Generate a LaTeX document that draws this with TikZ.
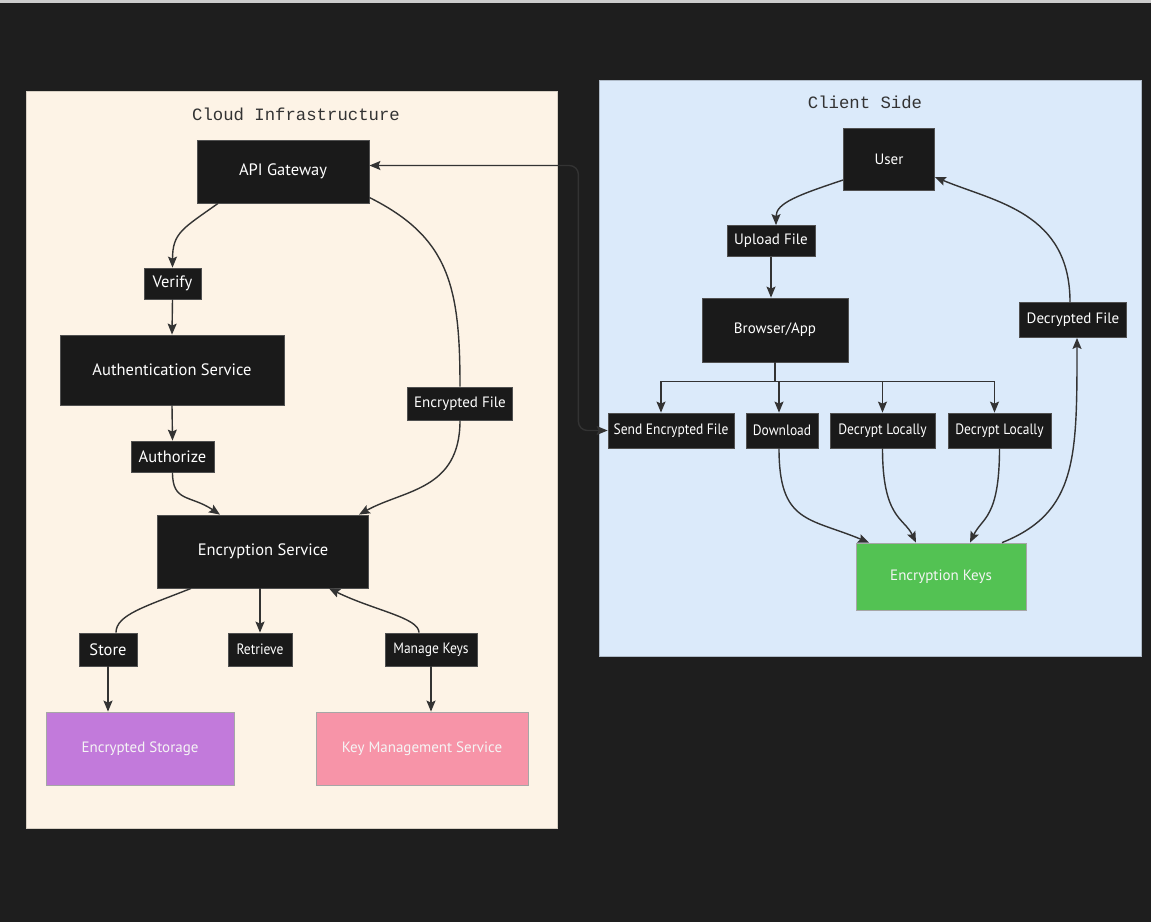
\documentclass[tikz,border=0pt]{standalone}
\usepackage{fontspec}
\setmainfont{PT Sans}
\newfontfamily\narrowfont[FakeStretch=0.9]{PT Sans}
\newfontfamily\titlefont{Liberation Mono}
\usetikzlibrary{arrows.meta}
\definecolor{bgdark}{HTML}{1E1E1E}
\definecolor{cream}{HTML}{FDF3E6}
\definecolor{skyblue}{HTML}{DBEAFA}
\definecolor{boxblack}{HTML}{1A1A1A}
\definecolor{boxedge}{HTML}{505050}
\definecolor{linegray}{HTML}{333333}
\definecolor{storepurple}{HTML}{C27ADB}
\definecolor{kmspink}{HTML}{F794A8}
\definecolor{keygreen}{HTML}{53C253}
\tikzset{
  blk/.style={draw=boxedge, line width=0.8pt, fill=boxblack, text=white, inner sep=0pt, font=\fontsize{15}{18}\selectfont},
  bigblk/.style={blk, font=\fontsize{16.5}{19}\selectfont},
  thinblk/.style={blk, font=\narrowfont\fontsize{15}{18}\selectfont},
  colbox/.style={draw=gray!70, line width=0.8pt, inner sep=0pt, text=white!92!gray, font=\fontsize{15}{18}\selectfont},
  link/.style={draw=linegray, line width=1.4pt},
  arr/.style={link, -{Stealth[length=11pt,width=9pt,inset=2pt]}},
  twoarr/.style={link, {Stealth[length=11pt,width=9pt,inset=2pt]}-{Stealth[length=11pt,width=9pt,inset=2pt]}},
  cltitle/.style={text=linegray, font=\titlefont\fontsize{17.3}{20}\selectfont}
}
\begin{document}
\begin{tikzpicture}[x=1pt,y=-1pt]
% background and the two groups
\fill[bgdark] (0,0) rectangle (1151,922);
\fill[white!80!black] (0,0) rectangle (1151,3);
\filldraw[fill=cream, draw=cream!85!black] (26,91) rectangle (557,828);
\filldraw[fill=skyblue, draw=skyblue!80!black] (599,80) rectangle (1141,656);
\node[cltitle] (cloudtitle) at (296,114) {Cloud Infrastructure};
\node[cltitle] (clienttitle) at (865,102) {Client Side};

% cloud side
\node[bigblk, minimum width=172, minimum height=63] (api) at (283,171.5) {API Gateway};
\node[bigblk, minimum width=57, minimum height=31] (verify) at (172.5,283.5) {Verify};
\node[bigblk, minimum width=224, minimum height=70] (auth) at (172,370) {Authentication Service};
\node[bigblk, minimum width=83, minimum height=31] (authz) at (172.5,456.5) {Authorize};
\node[blk, minimum width=105, minimum height=33] (encf) at (460,403.5) {Encrypted File};
\node[bigblk, minimum width=211, minimum height=73] (encsvc) at (263,551.5) {Encryption Service};
\node[bigblk, minimum width=58, minimum height=33] (store) at (108,649.5) {Store};
\node[thinblk, minimum width=64, minimum height=33] (retr) at (260,649.5) {Retrieve};
\node[thinblk, minimum width=92, minimum height=33] (mkeys) at (431,649.5) {Manage Keys};
\node[colbox, fill=storepurple, minimum width=188, minimum height=73] (encstor) at (140,748.5) {Encrypted Storage};
\node[colbox, fill=kmspink, minimum width=212, minimum height=73] (kms) at (422,748.5) {Key Management Service};

% client side
\node[blk, minimum width=91, minimum height=62] (user) at (889,159) {User};
\node[blk, minimum width=88, minimum height=31] (upload) at (771,241) {Upload File};
\node[blk, minimum width=146, minimum height=64] (browser) at (775,330) {Browser/App};
\node[blk, minimum width=107, minimum height=35] (decf) at (1073,320) {Decrypted File};
\node[thinblk, minimum width=126, minimum height=35] (send) at (671,430.5) {Send Encrypted File};
\node[thinblk, minimum width=72, minimum height=35] (down) at (782,430.5) {Download};
\node[thinblk, minimum width=105, minimum height=35] (decA) at (882.5,430.5) {Decrypt Locally};
\node[thinblk, minimum width=103, minimum height=35] (decB) at (999.5,430.5) {Decrypt Locally};
\node[colbox, fill=keygreen, minimum width=170, minimum height=67] (keys) at (941,576.5) {Encryption Keys};

% cloud connectors
\draw[arr] ([xshift=-65pt]api.south) .. controls +(-35,25) and +(0,-35) .. (verify.north);
\draw[arr] (verify.south) -- (auth.north);
\draw[arr] (auth.south) -- (authz.north);
\draw[arr] (authz.south) .. controls +(0,30) and +(-30,-20) .. ([xshift=-43pt]encsvc.north);
\draw[link] ([yshift=-26pt]api.east) .. controls +(80,40) and +(0,-100) .. (encf.north);
\draw[arr] (encf.south) .. controls +(0,70) and +(45,-25) .. ([xshift=96pt]encsvc.north);
\draw[link] ([xshift=-72pt]encsvc.south) .. controls +(-45,18) and +(0,-18) .. ([xshift=8pt]store.north);
\draw[arr] (store.south) -- (store.south |- encstor.north);
\draw[arr] (retr.north |- encsvc.south) -- (retr.north);
\draw[arr] ([xshift=-12pt]mkeys.north) .. controls +(0,-15) and +(45,22) .. ([xshift=66pt]encsvc.south);
\draw[arr] (mkeys.south) -- (mkeys.south |- kms.north);
\draw[twoarr, rounded corners=9pt] ([yshift=6pt]api.east) -- ++(209,0) |- (send.west);

% client connectors
\draw[arr] ([yshift=-21pt]user.west) .. controls +(-45,15) and +(0,-22) .. ([xshift=5pt]upload.north);
\draw[arr] (upload.south) -- (upload.south |- browser.north);
\draw[arr] (browser.south) -- ++(0,19) -| ([xshift=-10pt]send.north);
\draw[arr] (browser.south) -- ++(0,19) -| ([xshift=-3pt]down.north);
\draw[arr] (browser.south) -- ++(0,19) -| (decA.north);
\draw[arr] (browser.south) -- ++(0,19) -| ([xshift=-5pt]decB.north);
\draw[arr] ([xshift=-3pt]down.south) .. controls +(0,75) and +(-60,-25) .. ([xshift=-72pt]keys.north);
\draw[arr] (decA.south) .. controls +(0,70) and +(-12,-25) .. ([xshift=-25pt]keys.north);
\draw[arr] (decB.south) .. controls +(0,70) and +(12,-25) .. ([xshift=29pt]keys.north);
\draw[arr] ([xshift=61pt]keys.north) .. controls +(75,-30) and +(0,120) .. ([xshift=4pt]decf.south);
\draw[arr] ([xshift=-3pt]decf.north) .. controls +(0,-90) and +(60,25) .. ([yshift=-18pt]user.east);
\end{tikzpicture}
\end{document}
